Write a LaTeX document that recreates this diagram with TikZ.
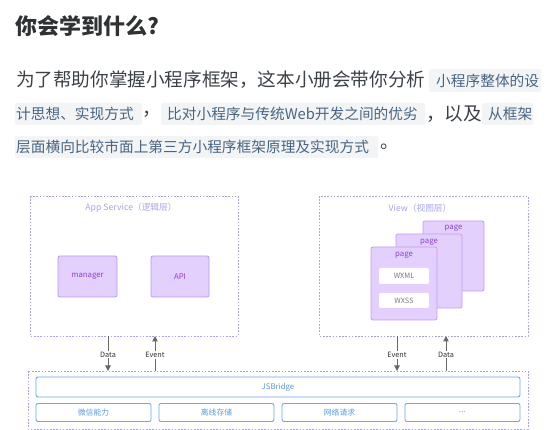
\documentclass[tikz,border=0pt]{standalone}
\usepackage{fontspec}
\setmainfont{Noto Sans CJK SC}
\usetikzlibrary{arrows.meta}
\definecolor{headcol}{HTML}{2F3133}
\definecolor{bodycol}{HTML}{3C4148}
\definecolor{codecol}{HTML}{476582}
\definecolor{codebg}{HTML}{F3F4F6}
\definecolor{dashcol}{HTML}{A3A3F2}
\definecolor{labcol}{HTML}{A6A6F4}
\definecolor{pfill}{HTML}{E4D0FD}
\definecolor{pborder}{HTML}{AC9BF5}
\definecolor{pgborder}{HTML}{C69BF4}
\definecolor{ptext}{HTML}{8C40D0}
\definecolor{bborder}{HTML}{6AA9F2}
\definecolor{btext}{HTML}{5B9BE6}
\definecolor{arrcol}{HTML}{676767}
\definecolor{graytext}{HTML}{7A7A7A}
\tikzset{
  bodytext/.style={anchor=west,inner sep=0pt,text=bodycol,font=\fontsize{18.6pt}{20pt}\selectfont},
  codetext/.style={anchor=west,inner sep=0pt,text=codecol,font=\fontsize{14.7pt}{16pt}\selectfont},
  codebox/.style={fill=codebg,rounded corners=2pt},
  layerbox/.style={draw=dashcol,line width=0.8pt,dash pattern=on 1.6pt off 1.6pt},
  layerlabel/.style={text=labcol,font=\fontsize{8.7pt}{10pt}\selectfont,inner sep=0pt},
  modbox/.style={draw=pborder,fill=pfill,line width=0.8pt,rounded corners=2pt,text=ptext,font=\fontsize{7.8pt}{9pt}\selectfont},
  pagebox/.style={draw=pgborder,fill=pfill,line width=0.8pt,rounded corners=2pt},
  pagelabel/.style={text=ptext,font=\fontsize{7.8pt}{9pt}\selectfont,inner sep=0pt},
  filebox/.style={fill=white,rounded corners=2pt,text=graytext,font=\fontsize{7.3pt}{8pt}\selectfont},
  bluebox/.style={draw=bborder,fill=white,line width=0.9pt,rounded corners=2pt,text=btext,font=\fontsize{7.8pt}{9pt}\selectfont},
  flow/.style={draw=arrcol,line width=1pt,-{Triangle[length=5.5pt,width=5.5pt]}},
  flowlabel/.style={fill=white,inner sep=1pt,text=headcol,font=\fontsize{7.3pt}{8pt}\selectfont}
}
\begin{document}
\begin{tikzpicture}[x=1pt,y=-1pt]
\useasboundingbox[fill=white] (0,0) rectangle (550,430);
% heading
\node[anchor=west,inner sep=0pt,text=headcol,font=\fontsize{22pt}{24pt}\selectfont\bfseries] (title) at (15,26) {你会学到什么?};
% paragraph
\node[bodytext] (l1a) at (16,80) {为了帮助你掌握小程序框架，这本小册会带你分析};
\fill[codebox] (429,69) rectangle (541,92);
\node[codetext] (l1b) at (436,80.5) {小程序整体的设};
\fill[codebox] (15,103) rectangle (142,125);
\node[codetext] (l2a) at (16,114) {计思想、实现方式};
\node[bodytext] (l2b) at (142,114) {，};
\fill[codebox] (161,103) rectangle (425,125);
\node[codetext] (l2c) at (167,114) {比对小程序与传统Web开发之间的优劣};
\node[bodytext] (l2d) at (426,114) {，以及};
\fill[codebox] (482,103) rectangle (533,125);
\node[codetext] (l2e) at (488,114) {从框架};
\fill[codebox] (15,136) rectangle (378,158);
\node[codetext] (l3a) at (16,147) {层面横向比较市面上第三方小程序框架原理及实现方式};
\node[bodytext] (l3b) at (380,147) {。};
% App service layer
\draw[layerbox] (30,196) rectangle (238,336);
\node[layerlabel] (applab) at (131,208) {App Service（逻辑层）};
\node[modbox,minimum width=59pt,minimum height=41pt] (manager) at (87.5,276.5) {manager};
\node[modbox,minimum width=58pt,minimum height=41pt] (api) at (180,276.5) {API};
% View layer
\draw[layerbox] (319,196) rectangle (528,336);
\node[layerlabel] (viewlab) at (420,208) {View（视图层）};
\draw[pagebox] (423,221) rectangle (484,291);
\node[pagelabel] (pg3) at (453.5,228) {page};
\draw[pagebox] (396,234) rectangle (462,308);
\node[pagelabel] (pg2) at (429,242) {page};
\draw[pagebox] (371,247) rectangle (437,320);
\node[pagelabel] (pg1) at (404,255) {page};
\node[filebox,minimum width=50pt,minimum height=16pt] (wxml) at (404,276) {WXML};
\node[filebox,minimum width=50pt,minimum height=15pt] (wxss) at (404,300.5) {WXSS};
% bottom layer
\draw[layerbox] (28,371) rectangle (528,429);
\node[bluebox,minimum width=484pt,minimum height=20pt] (jsb) at (278,387) {JSBridge};
\node[bluebox,minimum width=115pt,minimum height=18pt] (wx) at (93.5,412.5) {微信能力};
\node[bluebox,minimum width=115pt,minimum height=18pt] (off) at (216.5,412.5) {离线存储};
\node[bluebox,minimum width=115pt,minimum height=18pt] (net) at (339.5,412.5) {网络请求};
\node[bluebox,minimum width=115pt,minimum height=18pt] (more) at (462.5,412.5) {...};
% connectors
\coordinate (a1) at (108,336); \coordinate (b1) at (108,371);
\coordinate (a2) at (155,336); \coordinate (b2) at (155,371);
\coordinate (a3) at (397,336); \coordinate (b3) at (397,371);
\coordinate (a4) at (446,336); \coordinate (b4) at (446,371);
\draw[flow] (a1) -- (b1);
\draw[flow] (b2) -- (a2);
\draw[flow] (a3) -- (b3);
\draw[flow] (b4) -- (a4);
\node[flowlabel] (dl1) at (108,354.5) {Data};
\node[flowlabel] (el1) at (155,355) {Event};
\node[flowlabel] (el2) at (397,355) {Event};
\node[flowlabel] (dl2) at (446,354.5) {Data};
\end{tikzpicture}
\end{document}
